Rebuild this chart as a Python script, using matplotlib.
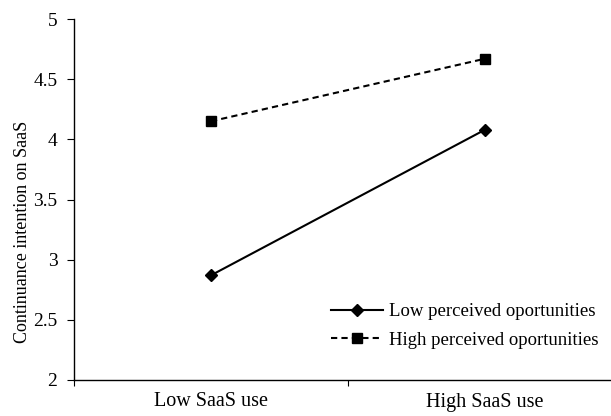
import matplotlib
matplotlib.use('Agg')
import matplotlib.pyplot as plt

categories = ['Low SaaS use', 'High SaaS use']
low_po = [2.87, 4.08]
high_po = [4.15, 4.67]
series_labels = ['Low perceived oportunities', 'High perceived oportunities']
y_ticks = [2, 2.5, 3, 3.5, 4, 4.5, 5]
y_tick_labels = ['2', '2.5', '3', '3.5', '4', '4.5', '5']

plt.rcParams['font.family'] = ['Liberation Serif', 'DejaVu Serif']

W, H = 611, 416
fig = plt.figure(figsize=(W / 100, H / 100), dpi=100)
# axes from x=74 to 622 px (right end is cut off), y from 19 to 380 px
ax = fig.add_axes([74 / W, (H - 380) / H, 548 / W, 361 / H])

xs = list(range(len(categories)))
ax.plot(xs, low_po, color='black', lw=1.5, marker='D', ms=6.5,
        label=series_labels[0], clip_on=False)
ax.plot(xs, high_po, color='black', lw=1.5, ls=(0, (3, 2)), marker='s', ms=7.5,
        label=series_labels[1], clip_on=False)

ax.set_xlim(-0.5, 1.5)
ax.set_ylim(2, 5)
ax.spines['top'].set_visible(False)
ax.spines['right'].set_visible(False)
ax.spines['left'].set_linewidth(1.0)
ax.spines['bottom'].set_linewidth(1.0)

ax.set_yticks(y_ticks)
ax.set_yticklabels(y_tick_labels)
ax.tick_params(axis='y', direction='out', length=5, width=0.8, pad=7,
               labelsize=14, colors='black')

# category boundaries as major ticks, category names as minor ticks
ax.set_xticks([-0.5, 0.5, 1.5])
ax.set_xticklabels(['', '', ''])
ax.tick_params(axis='x', which='major', direction='out', length=4, width=0.8)
ax.set_xticks(xs, minor=True)
ax.set_xticklabels(categories, minor=True)
ax.tick_params(axis='x', which='minor', length=0, pad=9, labelsize=14.5)

ax.set_ylabel('Continuance intention on SaaS', fontsize=13)
ax.yaxis.set_label_coords(-0.078, 0.41)

leg = ax.legend(loc='upper left', bbox_to_anchor=(331 / W, 1 - 303 / H),
                bbox_transform=fig.transFigure, frameon=False, fontsize=13.5,
                handlelength=2.77, handletextpad=0.3, labelspacing=0.62,
                borderpad=0, borderaxespad=0, markerscale=0.9)

fig.savefig('out.png', dpi=100)
